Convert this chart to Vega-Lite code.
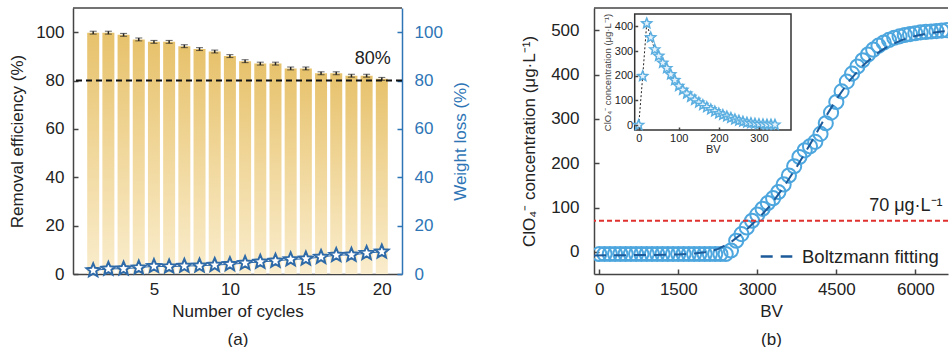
{
  "$schema": "https://vega.github.io/schema/vega-lite/v6.json",
  "background": "white",
  "padding": {"left": 8, "top": 7, "right": 0, "bottom": 0},
  "bounds": "flush",
  "spacing": 192,
  "config": {
    "view": {"stroke": null},
    "font": "Liberation Sans",
    "axis": {
      "labelFont": "Liberation Sans", "titleFont": "Liberation Sans",
      "labelFontSize": 17, "titleFontSize": 17, "titleFontWeight": "normal",
      "labelColor": "#222", "titleColor": "#222",
      "domainColor": "#444", "tickColor": "#444", "domainWidth": 1.5, "tickWidth": 1.5,
      "grid": false, "tickSize": -5, "labelPadding": 12
    }
  },
  "datasets": {
    "cycles": [
      {"cycle": 1, "re": 99.8, "err": 0.6, "wl": 1.5},
      {"cycle": 2, "re": 99.8, "err": 0.6, "wl": 2.1},
      {"cycle": 3, "re": 98.9, "err": 0.6, "wl": 2.2},
      {"cycle": 4, "re": 97.0, "err": 0.6, "wl": 2.6},
      {"cycle": 5, "re": 96.0, "err": 0.6, "wl": 3.2},
      {"cycle": 6, "re": 96.0, "err": 0.6, "wl": 3.0},
      {"cycle": 7, "re": 94.2, "err": 0.6, "wl": 3.3},
      {"cycle": 8, "re": 93.0, "err": 0.6, "wl": 3.4},
      {"cycle": 9, "re": 92.0, "err": 0.6, "wl": 3.7},
      {"cycle": 10, "re": 90.1, "err": 0.6, "wl": 4.0},
      {"cycle": 11, "re": 88.0, "err": 0.6, "wl": 4.5},
      {"cycle": 12, "re": 87.0, "err": 0.6, "wl": 5.0},
      {"cycle": 13, "re": 87.0, "err": 0.6, "wl": 5.4},
      {"cycle": 14, "re": 85.0, "err": 0.6, "wl": 6.0},
      {"cycle": 15, "re": 85.0, "err": 0.6, "wl": 6.3},
      {"cycle": 16, "re": 83.0, "err": 0.6, "wl": 7.0},
      {"cycle": 17, "re": 83.0, "err": 0.6, "wl": 7.8},
      {"cycle": 18, "re": 82.0, "err": 0.6, "wl": 7.9},
      {"cycle": 19, "re": 82.0, "err": 0.6, "wl": 8.6},
      {"cycle": 20, "re": 80.7, "err": 0.6, "wl": 9.2}
    ],
    "main": [
      {"bv": 0, "c": -5}, {"bv": 100, "c": -5}, {"bv": 200, "c": -5}, {"bv": 300, "c": -5},
      {"bv": 400, "c": -5}, {"bv": 500, "c": -5}, {"bv": 600, "c": -5}, {"bv": 700, "c": -5},
      {"bv": 800, "c": -5}, {"bv": 900, "c": -5}, {"bv": 1000, "c": -5}, {"bv": 1100, "c": -5},
      {"bv": 1200, "c": -5}, {"bv": 1300, "c": -5}, {"bv": 1400, "c": -5}, {"bv": 1500, "c": -5},
      {"bv": 1600, "c": -5}, {"bv": 1700, "c": -5}, {"bv": 1800, "c": -5}, {"bv": 1900, "c": -5},
      {"bv": 2000, "c": -5}, {"bv": 2100, "c": -5}, {"bv": 2200, "c": -5}, {"bv": 2300, "c": -5},
      {"bv": 2400, "c": -5}, {"bv": 2500, "c": 3}, {"bv": 2600, "c": 25}, {"bv": 2700, "c": 40},
      {"bv": 2800, "c": 55}, {"bv": 2900, "c": 70}, {"bv": 3000, "c": 84}, {"bv": 3100, "c": 97},
      {"bv": 3200, "c": 110}, {"bv": 3300, "c": 121}, {"bv": 3400, "c": 135}, {"bv": 3500, "c": 152},
      {"bv": 3600, "c": 172}, {"bv": 3700, "c": 193}, {"bv": 3800, "c": 214}, {"bv": 3900, "c": 229},
      {"bv": 4000, "c": 238}, {"bv": 4100, "c": 248}, {"bv": 4200, "c": 266}, {"bv": 4300, "c": 290},
      {"bv": 4400, "c": 314}, {"bv": 4500, "c": 338}, {"bv": 4600, "c": 362}, {"bv": 4700, "c": 384},
      {"bv": 4800, "c": 402}, {"bv": 4900, "c": 418}, {"bv": 5000, "c": 432}, {"bv": 5100, "c": 445},
      {"bv": 5200, "c": 456}, {"bv": 5300, "c": 465}, {"bv": 5400, "c": 472}, {"bv": 5500, "c": 478},
      {"bv": 5600, "c": 483}, {"bv": 5700, "c": 486}, {"bv": 5800, "c": 489}, {"bv": 5900, "c": 491},
      {"bv": 6000, "c": 493}, {"bv": 6100, "c": 495}, {"bv": 6200, "c": 496}, {"bv": 6300, "c": 497},
      {"bv": 6400, "c": 498}, {"bv": 6500, "c": 499}, {"bv": 6600, "c": 500}
    ],
    "fit": [
      {"bv": -100, "fit": -8}, {"bv": 500, "fit": -7.5}, {"bv": 1000, "fit": -7}, {"bv": 1500, "fit": -6},
      {"bv": 1800, "fit": -4}, {"bv": 2000, "fit": -1}, {"bv": 2250, "fit": 6}, {"bv": 2500, "fit": 22},
      {"bv": 2750, "fit": 45}, {"bv": 3000, "fit": 73}, {"bv": 3250, "fit": 105}, {"bv": 3500, "fit": 146},
      {"bv": 3750, "fit": 192}, {"bv": 4000, "fit": 242}, {"bv": 4250, "fit": 295}, {"bv": 4500, "fit": 344},
      {"bv": 4750, "fit": 386}, {"bv": 5000, "fit": 420}, {"bv": 5250, "fit": 446}, {"bv": 5500, "fit": 465},
      {"bv": 5750, "fit": 478}, {"bv": 6000, "fit": 487}, {"bv": 6250, "fit": 493}, {"bv": 6500, "fit": 497},
      {"bv": 6620, "fit": 498}
    ],
    "inset": [
      {"bv": 0, "c": 0}, {"bv": 10, "c": 198}, {"bv": 20, "c": 412}, {"bv": 30, "c": 355},
      {"bv": 40, "c": 306}, {"bv": 50, "c": 280}, {"bv": 60, "c": 252}, {"bv": 70, "c": 230},
      {"bv": 80, "c": 205}, {"bv": 90, "c": 182}, {"bv": 100, "c": 158}, {"bv": 110, "c": 142},
      {"bv": 120, "c": 127}, {"bv": 130, "c": 114}, {"bv": 140, "c": 102}, {"bv": 150, "c": 91},
      {"bv": 160, "c": 81}, {"bv": 170, "c": 72}, {"bv": 180, "c": 63}, {"bv": 190, "c": 55},
      {"bv": 200, "c": 47}, {"bv": 210, "c": 41}, {"bv": 220, "c": 35}, {"bv": 230, "c": 29},
      {"bv": 240, "c": 23}, {"bv": 250, "c": 18}, {"bv": 260, "c": 14}, {"bv": 270, "c": 10},
      {"bv": 280, "c": 8}, {"bv": 290, "c": 6}, {"bv": 300, "c": 4}, {"bv": 310, "c": 3},
      {"bv": 320, "c": 2}, {"bv": 330, "c": 2}, {"bv": 340, "c": 1}
    ],
    "frame": [{"x0": -10, "x1": 380, "y0": -20, "y1": 450}],
    "one": [{}]
  },
  "hconcat": [
    {
      "width": 329,
      "height": 266,
      "layer": [
        {
          "layer": [
            {
              "data": {"name": "cycles"},
              "mark": {
                "type": "bar", "width": 12,
                "color": {"gradient": "linear", "x1": 0, "y1": 0, "x2": 0, "y2": 1,
                  "stops": [{"offset": 0, "color": "#e7c26c"}, {"offset": 1, "color": "#faedcd"}]}
              },
              "encoding": {
                "x": {"field": "cycle", "type": "quantitative", "scale": {"domain": [0, 21], "nice": false},
                  "axis": {"values": [5, 10, 15, 20], "title": ["Number of cycles", "(a)"], "titleLineHeight": 28, "titlePadding": 6}},
                "y": {"field": "re", "type": "quantitative", "scale": {"domain": [0, 110], "nice": false},
                  "axis": {"values": [0, 20, 40, 60, 80, 100], "title": "Removal efficiency (%)", "titlePadding": 9, "labelPadding": 14}}
              }
            },
            {
              "data": {"name": "cycles"},
              "mark": {"type": "errorbar", "ticks": {"size": 7, "color": "#222", "strokeWidth": 1.5}, "rule": {"color": "#222", "strokeWidth": 1.5}},
              "encoding": {
                "x": {"field": "cycle", "type": "quantitative"},
                "y": {"field": "re", "type": "quantitative", "title": "Removal efficiency (%)"},
                "yError": {"field": "err"}
              }
            },
            {
              "data": {"name": "one"},
              "mark": {"type": "rule", "strokeDash": [6, 4], "color": "#111", "strokeWidth": 2},
              "encoding": {"y": {"datum": 80}}
            },
            {
              "data": {"name": "one"},
              "mark": {"type": "rule", "color": "#444", "strokeWidth": 1.5},
              "encoding": {"y": {"datum": 110}}
            },
            {
              "data": {"name": "one"},
              "mark": {"type": "text", "text": "80%", "fontSize": 18, "color": "#222", "font": "Liberation Sans"},
              "encoding": {"x": {"datum": 19.4}, "y": {"datum": 89}}
            }
          ]
        },
        {
          "data": {"name": "cycles"},
          "layer": [
            {
              "mark": {"type": "line", "color": "#2f6aa8", "strokeWidth": 1},
              "encoding": {
                "x": {"field": "cycle", "type": "quantitative"},
                "y": {"field": "wl", "type": "quantitative", "scale": {"domain": [0, 110], "nice": false},
                  "axis": {"orient": "right", "values": [0, 20, 40, 60, 80, 100], "title": "Weight loss (%)", "titleAngle": 270, "titleBaseline": "top",
                    "labelColor": "#2e75b6", "titleColor": "#2e75b6", "domainColor": "#2e75b6", "tickColor": "#2e75b6", "titlePadding": 10, "labelPadding": 17}}
              }
            },
            {
              "mark": {"type": "point", "shape": "M0,-1L0.265,-0.364L0.951,-0.309L0.428,0.139L0.588,0.809L0,0.45L-0.588,0.809L-0.428,0.139L-0.951,-0.309L-0.265,-0.364Z",
                "size": 200, "filled": true, "fill": "white", "stroke": "#2f6aa8", "strokeWidth": 2, "opacity": 1},
              "encoding": {
                "x": {"field": "cycle", "type": "quantitative"},
                "y": {"field": "wl", "type": "quantitative"}
              }
            }
          ]
        }
      ],
      "resolve": {"scale": {"y": "independent"}}
    },
    {
      "width": 354,
      "height": 266,
      "layer": [
        {
          "layer": [
            {
              "data": {"name": "main"},
              "mark": {"type": "point", "shape": "circle", "size": 200, "filled": false, "color": "#4da6de", "strokeWidth": 2, "opacity": 1, "clip": true},
              "encoding": {
                "x": {"field": "bv", "type": "quantitative", "scale": {"domain": [-100, 6620], "nice": false},
                  "axis": {"values": [0, 1500, 3000, 4500, 6000], "format": "d", "title": ["BV", "(b)"], "titleLineHeight": 28, "titlePadding": 6}},
                "y": {"field": "c", "type": "quantitative", "scale": {"domain": [-50, 550], "nice": false},
                  "axis": {"values": [0, 100, 200, 300, 400, 500], "title": "ClO₄⁻ concentration (μg·L⁻¹)", "titlePadding": 12, "labelPadding": 20}}
              }
            },
            {
              "data": {"name": "fit"},
              "mark": {"type": "line", "strokeDash": [12, 8], "strokeWidth": 2, "clip": true},
              "encoding": {
                "x": {"field": "bv", "type": "quantitative"},
                "y": {"field": "fit", "type": "quantitative", "title": "ClO₄⁻ concentration (μg·L⁻¹)"},
                "color": {"datum": "Boltzmann fitting", "scale": {"range": ["#1d5a9a"]},
                  "legend": {"orient": "none", "legendX": 165, "legendY": 231, "title": null, "symbolType": "stroke",
                    "symbolStrokeWidth": 2.5, "symbolDash": [12, 8], "symbolSize": 1000, "labelFontSize": 18.5,
                    "labelFont": "Liberation Sans", "labelColor": "#222", "padding": 0, "labelOffset": 8}}
              }
            },
            {
              "data": {"name": "one"},
              "mark": {"type": "rule", "color": "#e0312f", "strokeDash": [5, 3], "strokeWidth": 2},
              "encoding": {"y": {"datum": 70}}
            },
            {
              "data": {"name": "one"},
              "mark": {"type": "rule", "color": "#444", "strokeWidth": 1.5},
              "encoding": {"y": {"datum": 550}}
            },
            {
              "data": {"name": "one"},
              "mark": {"type": "text", "text": "70 μg·L⁻¹", "fontSize": 18, "color": "#222", "font": "Liberation Sans"},
              "encoding": {"x": {"datum": 5820}, "y": {"datum": 103}}
            }
          ]
        },
        {
          "layer": [
            {
              "data": {"name": "frame"},
              "mark": {"type": "rect", "fill": "white", "stroke": "#333", "strokeWidth": 1.5},
              "encoding": {
                "x": {"field": "x0", "type": "quantitative", "scale": {"domain": [-10, 380], "range": [40.7, 197], "nice": false},
                  "axis": {"orient": "bottom", "offset": -144, "values": [0, 100, 200, 300], "title": "BV", "labelFontSize": 11,
                    "titleFontSize": 11, "tickSize": -3, "labelPadding": 5, "titlePadding": 0, "zindex": 1, "domain": false}},
                "x2": {"field": "x1"},
                "y": {"field": "y0", "type": "quantitative", "scale": {"domain": [-20, 450], "range": [122, 6], "nice": false},
                  "axis": {"orient": "left", "offset": -40.7, "values": [0, 100, 200, 300, 400], "title": "ClO₄⁻ concentration (μg·L⁻¹)",
                    "labelFontSize": 11, "titleFontSize": 9.5, "titleColor": "#444", "tickSize": -3, "labelPadding": 5, "titlePadding": 2, "zindex": 1, "domain": false}},
                "y2": {"field": "y1"}
              }
            },
            {
              "data": {"name": "inset"},
              "mark": {"type": "line", "strokeDash": [2, 2], "color": "#222", "strokeWidth": 1},
              "encoding": {
                "x": {"field": "bv", "type": "quantitative"},
                "y": {"field": "c", "type": "quantitative"}
              }
            },
            {
              "data": {"name": "inset"},
              "mark": {"type": "point", "shape": "M0,-1L0.265,-0.364L0.951,-0.309L0.428,0.139L0.588,0.809L0,0.45L-0.588,0.809L-0.428,0.139L-0.951,-0.309L-0.265,-0.364Z",
                "size": 110, "filled": true, "fill": "#e6f2fb", "stroke": "#5aaee0", "strokeWidth": 1.5, "opacity": 1},
              "encoding": {
                "x": {"field": "bv", "type": "quantitative"},
                "y": {"field": "c", "type": "quantitative"}
              }
            }
          ]
        }
      ],
      "resolve": {"scale": {"x": "independent", "y": "independent", "color": "independent"}}
    }
  ]
}
